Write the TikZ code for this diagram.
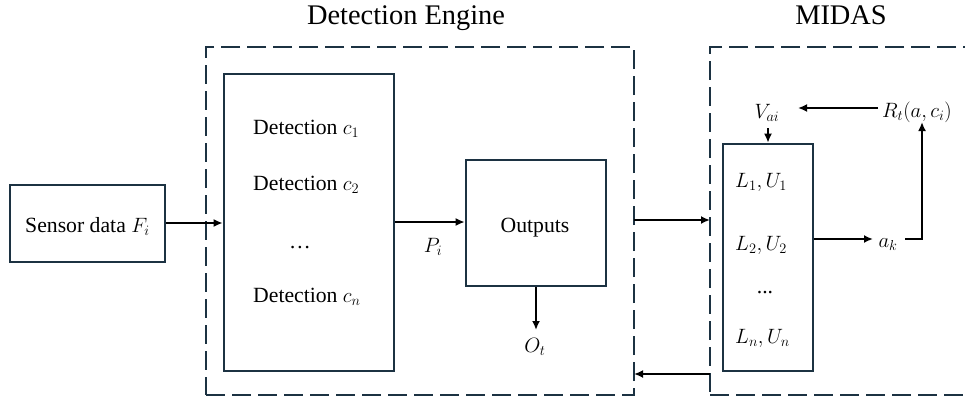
\documentclass[tikz,border=0pt]{standalone}
\usepackage{fontspec}
\setmainfont{Liberation Serif}
\usetikzlibrary{arrows.meta,calc}

\definecolor{navy}{RGB}{28,50,66}

\tikzset{
  box/.style={draw=navy, line width=2.6pt, minimum width=#1, inner sep=0pt},
  frame/.style={draw=navy, line width=2.5pt, dash pattern=on 19pt off 7pt, inner sep=0pt},
  arr/.style={draw=black, line width=2pt, -{Latex[length=9pt,width=8pt]}},
  txt/.style={font=\fontsize{21.7}{26}\selectfont, inner sep=0pt},
  ttl/.style={font=\fontsize{28.4}{34}\selectfont, inner sep=0pt}
}

\begin{document}
\begin{tikzpicture}[x=1pt, y=-1pt]
  % page area; the right-hand frame runs off the edge
  \clip (0,0) rectangle (965,404);
  \fill[white] (0,0) rectangle (965,404);

  % titles
  \node[ttl, anchor=base] (tde) at (406,25) {Detection Engine};
  \node[ttl, anchor=base] (tmi) at (841,25) {MIDAS};

  % dashed frames
  \node[frame, minimum width=428pt, minimum height=348pt] (de) at (420,221) {};
  \node[frame, minimum width=300pt, minimum height=348pt] (mi) at (860,221) {};

  % sensor input
  \node[box=155pt, minimum height=77pt] (sens) at (87.5,223.5) {};
  \node[txt, anchor=base] (senst) at (87.5,232) {Sensor data $F_i$};

  % detection block
  \node[box=170pt, minimum height=297pt] (det) at (309,222.5) {};
  \node[txt, anchor=base west] (d1) at (253,134) {Detection $c_1$};
  \node[txt, anchor=base west] (d2) at (253,190) {Detection $c_2$};
  \node[txt, anchor=base] (d3) at (300,248) {\dots};
  \node[txt, anchor=base west] (dn) at (253,302) {Detection $c_n$};

  % outputs block
  \node[box=140pt, minimum height=126pt] (out) at (536,223) {};
  \node[txt, anchor=base] (outt) at (535,232) {Outputs};
  \node[txt, anchor=base] (pi) at (433,252) {$P_i$};
  \node[txt, anchor=base] (ot) at (535,352) {$O_t$};

  % MIDAS inner block
  \node[box=90pt, minimum height=227pt] (lu) at (768,257.5) {};
  \node[txt, anchor=base west] (l1) at (735,187) {$L_1,U_1$};
  \node[txt, anchor=base west] (l2) at (735,250) {$L_2,U_2$};
  \node[txt, anchor=base] (l3) at (765,293) {...};
  \node[txt, anchor=base west] (ln) at (735,343) {$L_n,U_n$};

  \node[txt, anchor=base] (vai) at (767,118) {$V_{ai}$};
  \node[txt, anchor=base west] (rt) at (882,117) {$R_t(a,c_i)$};
  \node[txt, anchor=base] (ak) at (888,247) {$a_k$};

  % connectors
  \coordinate (deIn) at (634,220);
  \coordinate (miIn) at (710,220);
  \coordinate (miOut) at (710,374);
  \coordinate (deBack) at (634,374);
  \coordinate (vaiTip) at (798,108);
  \coordinate (akTip) at (873,239);
  \coordinate (akTurn) at (922,239);
  \coordinate (rtFoot) at (922,122);

  \draw[arr] (sens.east |- 0,223) -- (det.west |- 0,223);
  \draw[arr] (det.east |- 0,222) -- (out.west |- 0,222);
  \draw[arr] (out.south) -- (536,330);
  \draw[arr] (deIn) -- (miIn);
  \draw[arr] (miOut) -- (deBack);
  \draw[arr] (768,128) -- (lu.north -| 768,0);
  \draw[arr] (878,108) -- (vaiTip);
  \draw[arr] (lu.east |- akTip) -- (akTip);
  \draw[arr] (905,239) -- (akTurn) -- (rtFoot);
\end{tikzpicture}
\end{document}
